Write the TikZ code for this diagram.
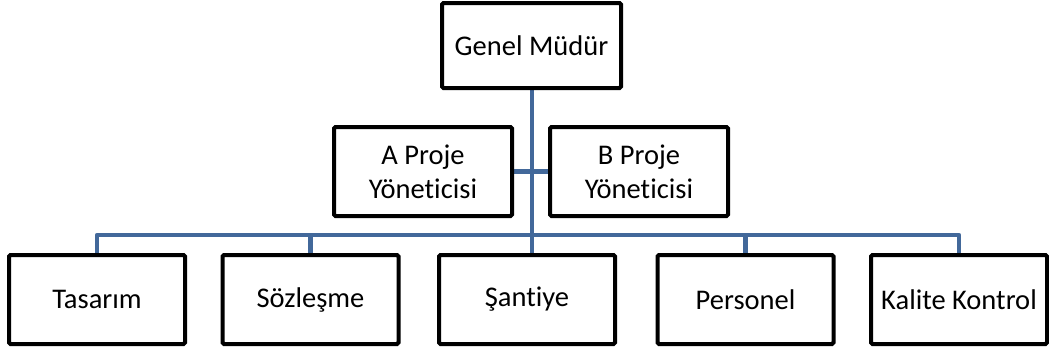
\documentclass[tikz,border=0pt]{standalone}
\usepackage{fontspec}
\setmainfont{Carlito}[RawFeature={-liga;-dlig}]
\usetikzlibrary{backgrounds}
\definecolor{linkblue}{RGB}{66,104,154}
\begin{document}
\begin{tikzpicture}[x=1pt,y=-1pt,
  unit/.style={draw=black,line width=4pt,rounded corners=1.5pt,fill=white,
    align=center,inner sep=0pt,font=\fontsize{28.5}{34}\selectfont},
  topbox/.style={unit,minimum width=179pt,minimum height=85pt},
  midbox/.style={unit,minimum width=178pt,minimum height=89pt},
  lowbox/.style={unit,minimum width=176pt,minimum height=89pt},
  link/.style={draw=linkblue,line width=4.5pt}]
\useasboundingbox (0,0) rectangle (1049,354);

% boxes
\node[topbox] (gm) at (531.5,45.5) {Genel Müdür};
\node[midbox] (pa) at (423,171.5) {A Proje\\Yöneticisi};
\node[midbox] (pb) at (639,171.5) {B Proje\\Yöneticisi};
\node[lowbox] (tas) at (97,299.5) {Tasarım};
\node[lowbox] (soz) at (310.5,299.5) {Sözleşme};
\node[lowbox] (san) at (527,299.5) {Şantiye};
\node[lowbox] (per) at (745.5,299.5) {Personel};
\node[lowbox] (kal) at (959,299.5) {Kalite Kontrol};

% connectors, kept behind the boxes
\coordinate (hub) at (532,171.5);
\coordinate (bus) at (532,235);
\begin{scope}[on background layer]
\path[link] (gm.south -| hub) -- (bus);
\path[link] (pa.east) -- (pb.west);
\path[link,line join=round] (tas.north) -- (tas.north |- bus) -- (kal.north |- bus) -- (kal.north);
\path[link] (soz.north |- bus) -- (soz.north);
\path[link] (bus) -- (bus |- san.north);
\path[link] (per.north |- bus) -- (per.north);
\end{scope}
\end{tikzpicture}
\end{document}
